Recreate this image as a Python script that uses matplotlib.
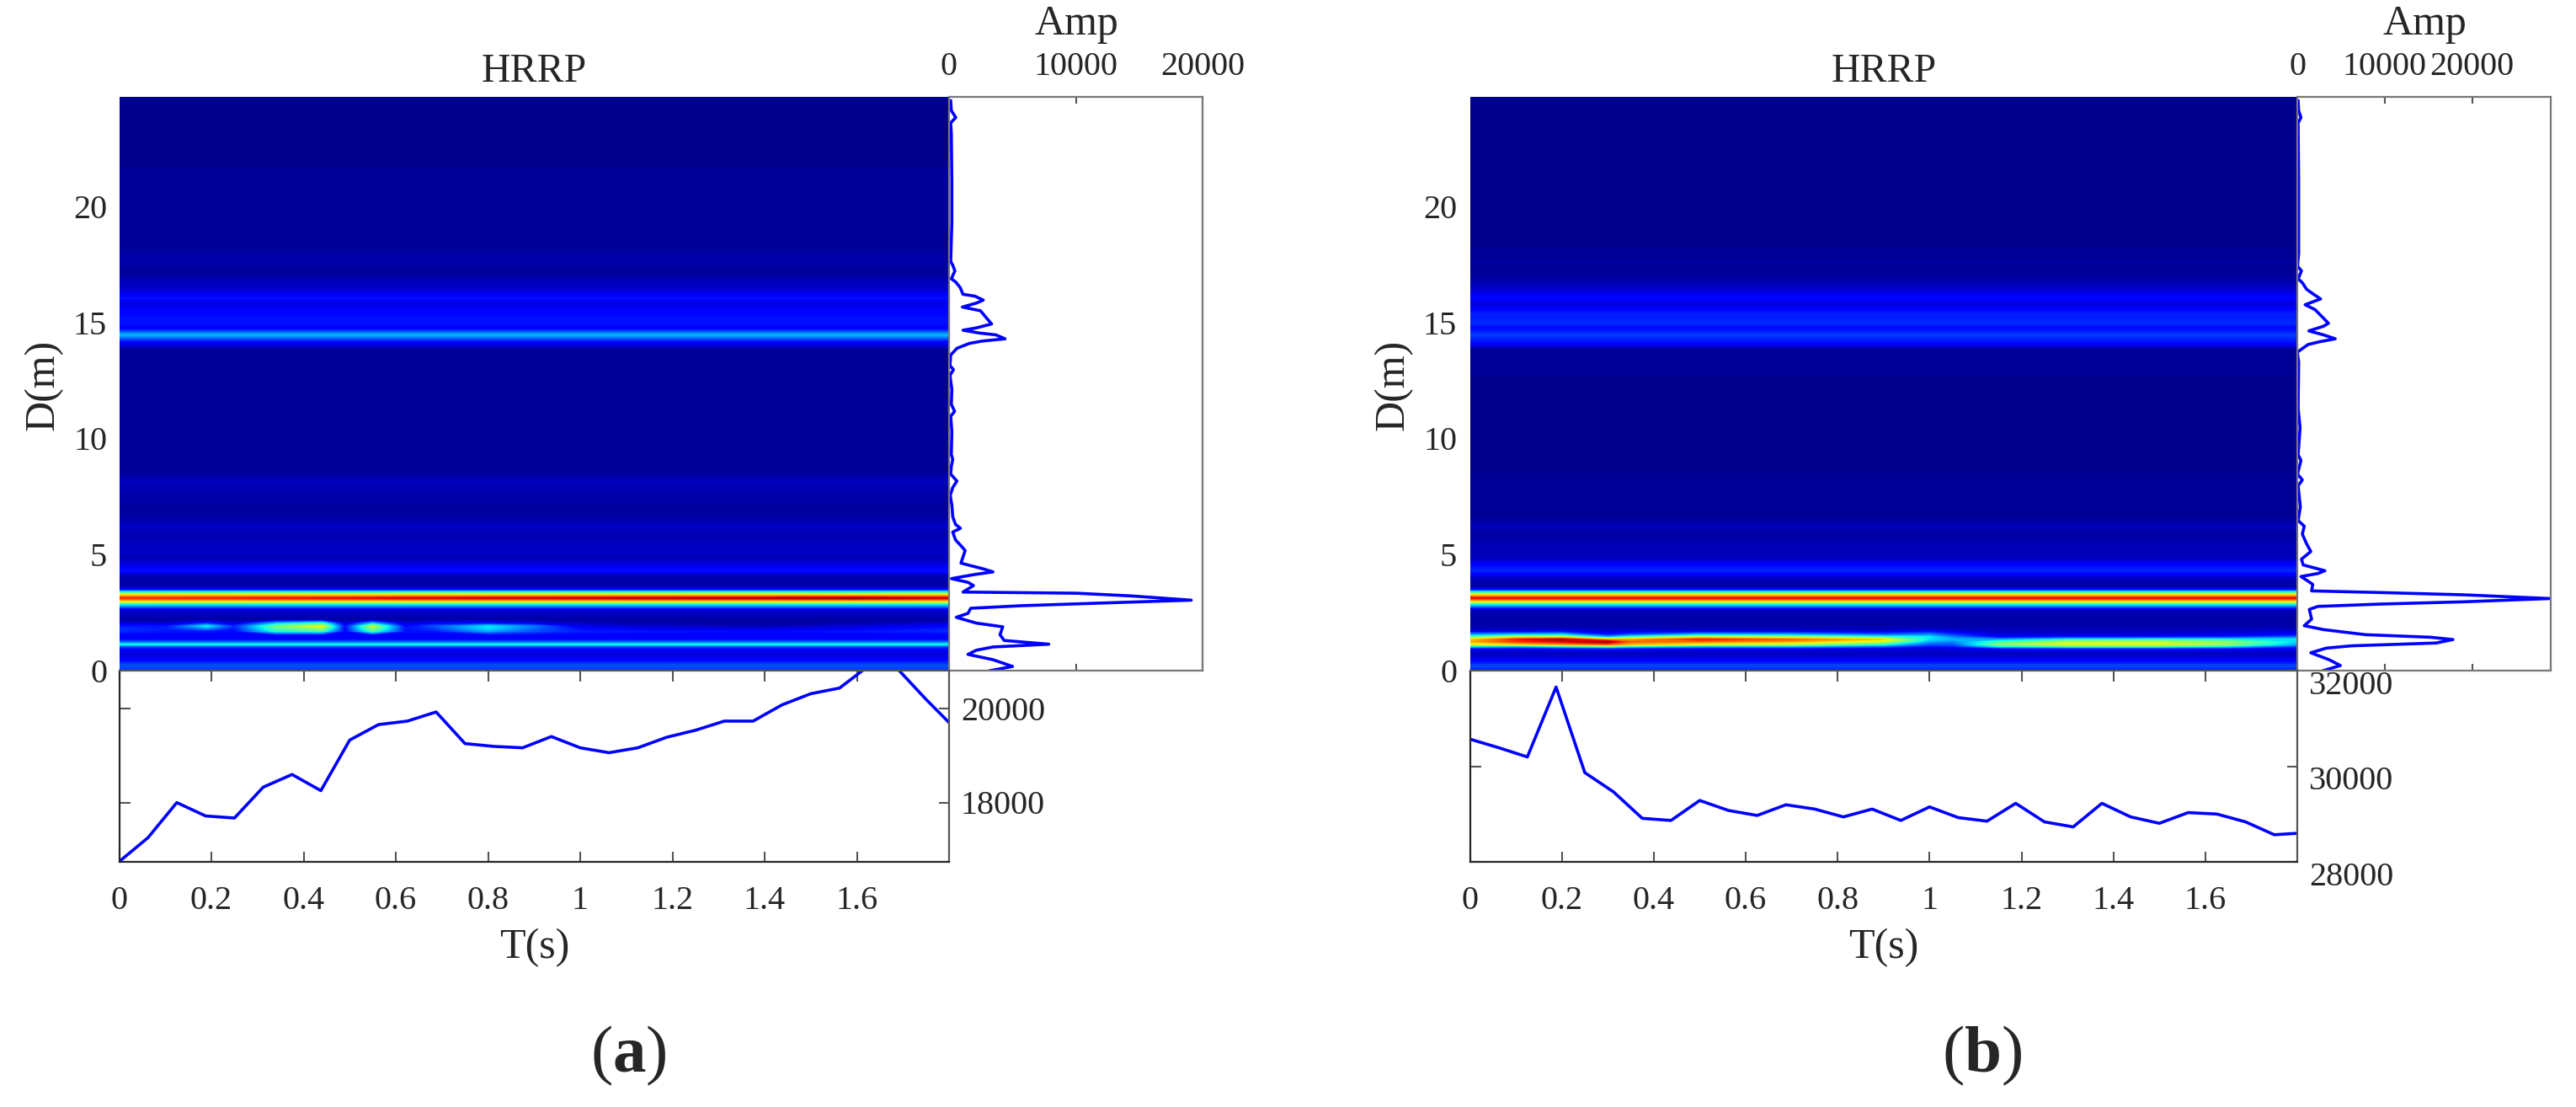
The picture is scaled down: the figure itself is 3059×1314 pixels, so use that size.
import numpy as np
import matplotlib
matplotlib.use("Agg")
import matplotlib.pyplot as plt

plt.rcParams["font.family"] = ["Liberation Serif", "DejaVu Serif"]
plt.rcParams["mathtext.fontset"] = "custom"
plt.rcParams["mathtext.bf"] = "Liberation Serif:bold"
plt.rcParams["mathtext.rm"] = "Liberation Serif"

W, H = 3059, 1314
BLUE = "#0000ff"
INK = "#262626"
FRAME = "#555555"

# --- bottom strip: values per time step ---
TIME = [0, 0.0625, 0.125, 0.1875, 0.25, 0.3125, 0.375, 0.4375, 0.5, 0.5625,
        0.625, 0.6875, 0.75, 0.8125, 0.875, 0.9375, 1.0, 1.0625, 1.125, 1.1875,
        1.25, 1.3125, 1.375, 1.4375, 1.5, 1.5625, 1.625, 1.6875, 1.75, 1.8]
STRIP_A = [16746, 17254, 18000, 17716, 17672, 18328, 18597, 18254, 19328, 19657,
           19731, 19925, 19254, 19194, 19164, 19403, 19164, 19060, 19164, 19388,
           19537, 19731, 19731, 20075, 20313, 20433, 20900, 20850, 20194, 19701]
STRIP_B = [30567, 30388, 30194, 31657, 29866, 29463, 28910, 28866, 29284, 29075,
           28970, 29194, 29104, 28940, 29104, 28866, 29149, 28925, 28851, 29224,
           28836, 28731, 29224, 28940, 28806, 29030, 29000, 28836, 28567, 28597]

# --- side strip: range profile ---
PROFILE_D_A = [24.59, 24.17, 23.87, 23.64, 23.17, 21.0, 19.33, 17.66, 17.50, 17.25,
               16.91, 16.78, 16.53, 16.24, 16.16, 15.99, 15.86, 15.69, 15.53, 15.24,
               14.96, 14.79, 14.69, 14.57, 14.49, 14.32, 14.22, 14.12, 13.91, 13.62,
               13.16, 12.99, 12.74, 12.15, 11.49, 11.19, 10.98, 10.32, 9.32, 9.12,
               8.81, 8.48, 8.18, 7.90, 7.56, 7.15, 6.64, 6.31, 6.14, 5.98,
               5.64, 5.39, 5.18, 4.64, 4.56, 4.39, 4.26, 4.14, 3.97, 3.81,
               3.67, 3.39, 3.34, 3.22, 3.04, 2.92, 2.80, 2.69, 2.47, 2.30,
               2.05, 1.89, 1.55, 1.30, 1.14, 1.02, 0.88, 0.70, 0.47, 0.18, 0]
PROFILE_AMP_A = [130, 180, 530, 130, 180, 220, 220, 130, 290, 460,
                 180, 510, 880, 1100, 2040, 2700, 2150, 1050, 2480, 2920,
                 3360, 2150, 1100, 2370, 3690, 4420, 2590, 1600, 620, 130,
                 70, 350, 70, 220, 180, 440, 130, 220, 180, 290,
                 180, 130, 620, 290, 90, 220, 290, 510, 900, 290,
                 510, 940, 1270, 940, 1490, 2700, 3470, 1930, 180, 1490,
                 1930, 1100, 10060, 14460, 19110, 12260, 5670, 1710, 1490, 570,
                 2150, 4240, 4020, 4350, 7870, 3470, 2150, 1490, 3470, 5010, 3250]
PROFILE_D_B = [24.59, 24.17, 23.87, 23.64, 21.0, 18.0, 17.46, 17.25, 16.91, 16.74,
               16.46, 16.24, 16.04, 15.79, 15.58, 14.99, 14.86, 14.66, 14.49, 14.32,
               14.19, 14.07, 13.74, 13.32, 11.32, 10.48, 9.32, 9.07, 8.48, 8.23,
               7.98, 7.06, 6.48, 6.23, 5.89, 5.48, 5.14, 4.81, 4.56, 4.31,
               4.19, 4.06, 3.84, 3.72, 3.44, 3.37, 3.27, 3.11, 2.97, 2.87,
               2.77, 2.64, 2.22, 1.94, 1.77, 1.55, 1.44, 1.34, 1.19, 1.07,
               0.97, 0.77, 0.47, 0.22, 0]
PROFILE_AMP_B = [100, 160, 420, 100, 160, 160, 30, 480, 100, 580,
                 1060, 1870, 2670, 900, 2030, 3570, 2990, 1320, 2990, 4350,
                 2510, 1220, 0, 160, 100, 320, 100, 420, 30, 580,
                 100, 350, 100, 800, 580, 1060, 1550, 480, 680, 3160,
                 2350, 420, 1320, 1770, 1640, 9430, 19090, 28900, 19090, 9430,
                 2350, 1380, 1640, 800, 2990, 7820, 15230, 17810, 15870, 6210,
                 3320, 1550, 3640, 4930, 2990]

# --- HRRP map: intensity 0-1 per range row ---
HEAT_D = [0, 0.22, 0.45, 0.7, 0.85, 0.95, 1.05, 1.13, 1.25, 1.35,
          1.45, 1.55, 1.7, 1.8, 1.92, 2.05, 2.2, 2.64, 2.82, 2.9,
          2.98, 3.13, 3.27, 3.4, 3.5, 3.65, 3.97, 4.16, 4.32, 4.52,
          4.82, 5.31, 5.9, 6.2, 6.64, 7.2, 8.2, 8.6, 9.5, 11,
          12.5, 13.87, 14.2, 14.48, 14.8, 14.98, 15.4, 15.85, 16.07, 16.4,
          16.77, 17.2, 17.7, 18.3, 20, 22, 24.76]
HEAT_BASE_A = [.17, .2, .12, .07, .09, .13, .2, .36, .2, .12,
               .1, .12, .15, .15, .13, .06, .03, .07, .3, .4,
               .62, .9, .66, .35, .1, .03, .04, .05, .14, .09,
               .05, .06, .04, .06, .03, .03, .05, .02, .02, .02,
               .02, .02, .12, .3, .09, .14, .13, .08, .14, .07,
               .05, .02, .04, .02, .02, .015, .015]
HEAT_BASE_B = [.14, .19, .1, .05, .07, .1, .3, .6, .7, .7,
               .5, .3, .07, .05, .04, .035, .03, .05, .3, .4,
               .62, .9, .66, .35, .1, .03, .05, .1, .16, .13,
               .05, .05, .03, .05, .02, .02, .02, .015, .015, .015,
               .015, .02, .14, .18, .12, .16, .15, .07, .13, .07,
               .04, .02, .025, .015, .015, .012, .012]

# rows that change along time, given at these time nodes
HEAT_T_A = [0, .1, .19, .25, .34, .44, .49, .55, .62, .68, .8, .9, 1.0, 1.15, 1.4, 1.6, 1.8]
ROWS_A = {
    12: [.16, .14, .14, .13, .38, .4, .12, .42, .14, .14, .28, .2, .15, .14, .13, .14, .16],
    13: [.17, .15, .24, .14, .44, .52, .12, .5, .14, .17, .34, .22, .13, .09, .08, .1, .15],
    14: [.14, .14, .36, .16, .48, .62, .12, .58, .12, .2, .35, .24, .09, .06, .04, .07, .12],
    15: [.07, .06, .16, .07, .3, .4, .07, .3, .07, .1, .12, .08, .05, .04, .03, .04, .06],
    21: [.86, .87, .88, .88, .89, .9, .9, .91, .92, .92, .93, .93, .94, .95, .96, .98, .93],
}
HEAT_T_B = [0, .1, .2, .3, .35, .5, .7, .9, 1.0, 1.05, 1.15, 1.3, 1.5, 1.65, 1.8]
ROWS_B = {
    5: [.12, .1, .12, .15, .12, .1, .1, .08, .07, .08, .12, .14, .14, .12, .1],
    6: [.35, .3, .38, .45, .38, .3, .3, .22, .14, .15, .36, .42, .42, .35, .18],
    7: [.6, .65, .72, .8, .7, .6, .55, .38, .2, .2, .5, .62, .62, .52, .28],
    8: [.72, .85, .92, .98, .8, .78, .72, .58, .28, .25, .42, .55, .56, .52, .33],
    9: [.68, .88, .96, .7, .72, .88, .8, .68, .34, .3, .26, .35, .36, .35, .35],
    10: [.45, .6, .6, .3, .42, .6, .55, .4, .36, .25, .12, .14, .14, .16, .22],
    11: [.28, .32, .34, .14, .2, .32, .3, .22, .26, .18, .08, .08, .08, .09, .12],
    12: [.08, .08, .1, .07, .08, .08, .08, .07, .12, .08, .05, .05, .05, .06, .07],
}

T_TICKS = [0, 0.2, 0.4, 0.6, 0.8, 1, 1.2, 1.4, 1.6]
T_LABELS = ["0", "0.2", "0.4", "0.6", "0.8", "1", "1.2", "1.4", "1.6"]
D_TICKS = [0, 5, 10, 15, 20]
T_MAX = 1.8
D_MAX = 24.76


def px_axes(fig, left, top, right, bottom):
    return fig.add_axes([left / W, 1 - bottom / H, (right - left) / W, (bottom - top) / H])


def fig_text(fig, x, y, s, **kw):
    kw.setdefault("ha", "center")
    kw.setdefault("va", "center")
    kw.setdefault("color", INK)
    fig.text(x / W, 1 - y / H, s, **kw)


def style_frame(ax, color=FRAME):
    for spine in ax.spines.values():
        spine.set_color(color)
        spine.set_linewidth(1.6)


def heat_matrix(base, t_nodes, rows):
    z = np.tile(np.array(base)[:, None], (1, len(t_nodes)))
    for idx, vals in rows.items():
        z[idx, :] = vals
    return z


def draw_panel(fig, left, mid, right, heat_base, t_nodes, rows, profile_d, profile_amp,
               amp_max, amp_ticks, strip, strip_lim, strip_ticks, strip_shift, tag,
               dm_x, d_tick_x, tag_x):
    top, split, bottom = 115, 796, 1023

    # heat map
    ax = px_axes(fig, left, top, mid, split)
    z = heat_matrix(heat_base, t_nodes, rows)
    ax.contourf(t_nodes, HEAT_D, z, levels=np.linspace(0, 1, 129), cmap="jet", vmin=0, vmax=1)
    ax.set_xlim(0, T_MAX)
    ax.set_ylim(0, D_MAX)
    ax.set_xticks([])
    ax.set_yticks([])
    for spine in ax.spines.values():
        spine.set_visible(False)
    for d in D_TICKS:
        y = split - (split - top) * d / D_MAX
        fig_text(fig, d_tick_x, y + 4, str(d), ha="right", fontsize=29)

    # range profile
    side = px_axes(fig, mid, top, right, split)
    side.plot(profile_amp, profile_d, color=BLUE, lw=2.6)
    side.set_xlim(0, amp_max)
    side.set_ylim(0, D_MAX)
    side.set_yticks([])
    side.set_xticks(amp_ticks)
    side.set_xticklabels([str(t) for t in amp_ticks], fontsize=29, color=INK)
    side.tick_params(axis="x", direction="in", top=True, bottom=True, labeltop=True,
                     labelbottom=False, length=6, width=1.5, color=FRAME, pad=12)
    style_frame(side, "#777777")

    # total amplitude strip
    low = px_axes(fig, left, split, mid, bottom)
    low.plot(TIME, strip, color=BLUE, lw=2.6)
    low.set_xlim(0, T_MAX)
    low.set_ylim(*strip_lim)
    low.set_xticks(T_TICKS)
    low.set_xticklabels(T_LABELS, fontsize=29, color=INK)
    low.set_yticks(strip_ticks)
    low.set_yticklabels([])
    low.tick_params(axis="x", direction="in", top=True, bottom=True, length=9, width=1.5,
                    color=FRAME, pad=20)
    low.tick_params(axis="y", direction="in", left=True, right=True, length=9, width=1.5,
                    color=FRAME)
    style_frame(low)
    low.spines["left"].set_color(INK)
    low.spines["bottom"].set_color(INK)
    for tick in strip_ticks:
        low.annotate(str(tick), xy=(1, tick), xycoords=low.get_yaxis_transform(),
                     xytext=(10, -strip_shift), textcoords="offset points",
                     ha="left", va="center", fontsize=29, color=INK, annotation_clip=False)

    cx = (left + mid) / 2
    fig_text(fig, cx, 85, "HRRP", fontsize=34.5)
    fig_text(fig, cx, 1125, "T(s)", fontsize=36)
    fig_text(fig, dm_x, 457, "D(m)", fontsize=36, rotation=90)
    fig_text(fig, mid + 151, 29, "Amp", fontsize=36)
    fig_text(fig, tag_x, 1253, tag, fontsize=57)


fig = plt.figure(figsize=(W / 100, H / 100), dpi=100, facecolor="white")
draw_panel(fig, 141.5, 1127, 1428, HEAT_BASE_A, HEAT_T_A, ROWS_A, PROFILE_D_A, PROFILE_AMP_A,
           19900, [0, 10000, 20000], STRIP_A, (16741, 20804), [18000, 20000], 3,
           r"($\mathbf{a}$)", 51, 127, 746)
draw_panel(fig, 1745.5, 2728, 3029, HEAT_BASE_B, HEAT_T_B, ROWS_B, PROFILE_D_B, PROFILE_AMP_B,
           28986, [0, 10000, 20000], STRIP_B, (28000, 32000), [28000, 30000, 32000], 13,
           r"($\mathbf{b}$)", 1654, 1730, 2354)
fig.savefig("out.png", dpi=100)
